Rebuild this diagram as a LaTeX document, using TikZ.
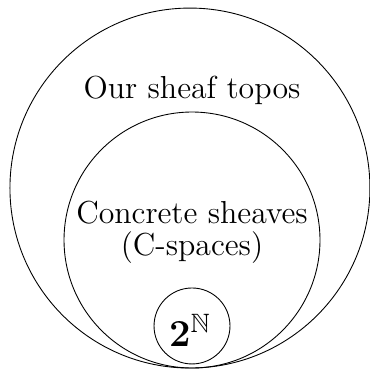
\documentclass[tikz,border=0pt]{standalone}
\usepackage{amsmath, amssymb}
\usepackage{tikz}

\begin{document}
\begin{tikzpicture}[font=\Large]
  \useasboundingbox (0,0) rectangle (5.883,-5.899);
  \draw (3.020,-2.990) circle (2.862);
  \draw (3.053,-3.816) circle (2.035);
  \draw (3.053,-5.183) circle (0.604);
  \node (topos) at (3.053,-1.431) {Our sheaf topos};
  \node (concrete) at (3.053,-3.387) {Concrete sheaves};
  \node (cspaces) at (3.053,-3.943) {(C-spaces)};
  \node[font=\LARGE] (cantor) at (3.020,-5.247) {$\mathbf{2}^{\mathbb{N}}$};
\end{tikzpicture}
\end{document}
